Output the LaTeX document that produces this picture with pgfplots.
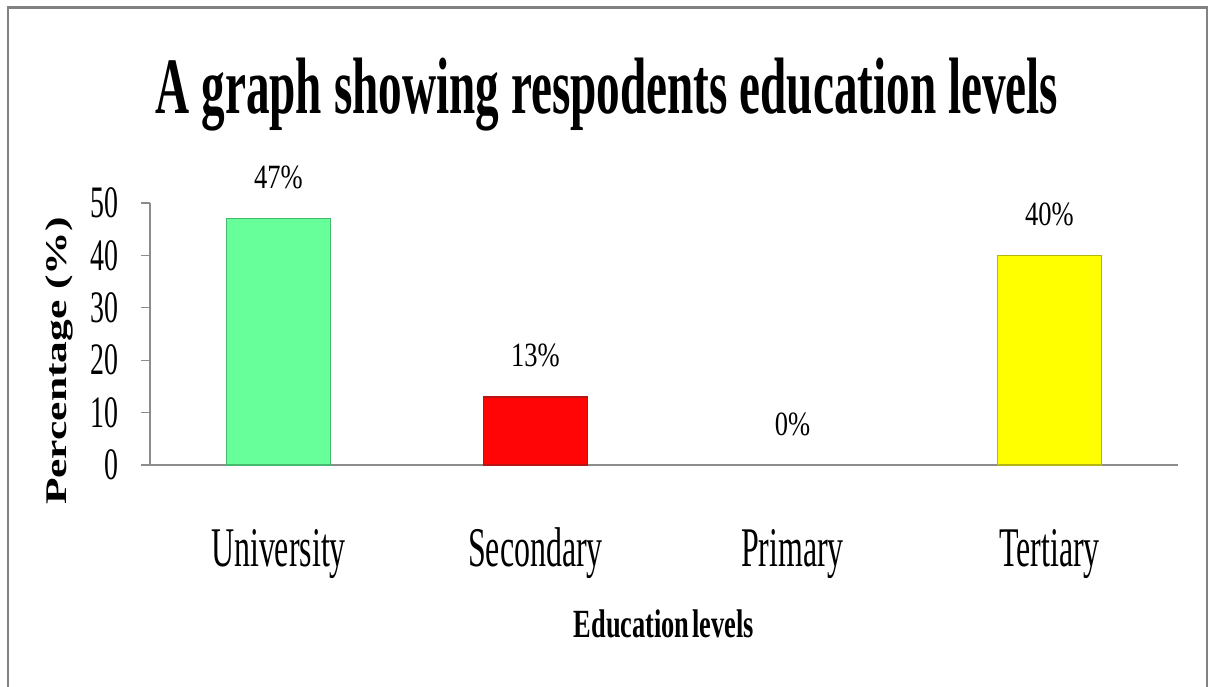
\documentclass[border=0pt]{standalone}
\usepackage{pgfplots}
\pgfplotsset{compat=1.18}
\usepackage{fontspec}
\setmainfont{Liberation Serif}
\newfontfamily\titlefont{Liberation Serif}[FakeStretch=0.59]
\newfontfamily\tickfont{Liberation Serif}[FakeStretch=0.62]
\newfontfamily\datafont{Liberation Serif}[FakeStretch=0.78]
\newfontfamily\catfont{Liberation Serif}[FakeStretch=0.57]
\newfontfamily\xlabfont{Liberation Serif}[FakeStretch=0.66]
\newfontfamily\ylabfont{Liberation Serif}[FakeStretch=1.45]
\definecolor{framegray}{RGB}{130,130,130}
\definecolor{axisgray}{RGB}{140,140,140}
\definecolor{barGreen}{RGB}{102,255,153}
\definecolor{barGreenEdge}{RGB}{70,185,110}
\definecolor{barRed}{RGB}{255,5,5}
\definecolor{barRedEdge}{RGB}{185,20,20}
\definecolor{barYellow}{RGB}{255,255,0}
\definecolor{barYellowEdge}{RGB}{180,180,20}
\begin{document}
\begin{tikzpicture}[x=1pt,y=1pt]
\useasboundingbox (0,0) rectangle (1214,-686);
\fill[white] (0,0) rectangle (1214,-686);
\draw[framegray, line width=2.2pt] (8,-690) -- (8,-7.5) -- (1207,-7.5) -- (1207,-690);
\node[anchor=base, inner sep=0pt] at (607,-113) {\titlefont\bfseries\fontsize{80}{90}\selectfont A graph showing respodents education levels};
\begin{axis}[
  at={(150pt,-465pt)}, anchor=south west,
  scale only axis, width=1028pt, height=262pt,
  xmin=-0.5, xmax=3.5, ymin=0, ymax=50,
  clip=false,
  axis x line=bottom, axis y line=left,
  axis line style={-, draw=axisgray, line width=1.4pt},
  /pgf/number format/assume math mode=true,
  ytick={0,10,20,30,40,50},
  xtick={0,1,2,3},
  xticklabels={University,Secondary,Primary,Tertiary},
  tick align=outside, major tick length=9pt,
  ytick style={draw=axisgray, line width=1.2pt},
  xtick style={draw=none},
  yticklabel style={font=\tickfont\fontsize{45}{50}\selectfont, anchor=east, inner sep=0pt, xshift=-22pt},
  xticklabel style={font=\catfont\fontsize{56}{60}\selectfont, anchor=base, inner sep=0pt, yshift=-92pt},
  ybar, bar width=104pt, bar shift=0pt,
  nodes near coords={\pgfmathprintnumber{\pgfplotspointmeta}\%},
  nodes near coords style={font=\datafont\fontsize{34}{36}\selectfont, anchor=base, inner sep=0pt, yshift=30pt},
]
\addplot[fill=barGreen, draw=barGreenEdge, line width=1.5pt] coordinates {(0,47)};
\addplot[fill=barRed, draw=barRedEdge, line width=1.5pt] coordinates {(1,13)};
\addplot[draw=none, fill=none] coordinates {(2,0)};
\addplot[fill=barYellow, draw=barYellowEdge, line width=1.5pt] coordinates {(3,40)};
\end{axis}
\node[rotate=90, anchor=base, inner sep=0pt] at (66,-361) {\ylabfont\bfseries\fontsize{30}{32}\selectfont Percentage (\%)};
\node[anchor=base, inner sep=0pt] at (664,-637) {\xlabfont\bfseries\fontsize{40}{44}\selectfont Education\hspace{3pt}levels};
\end{tikzpicture}
\end{document}
